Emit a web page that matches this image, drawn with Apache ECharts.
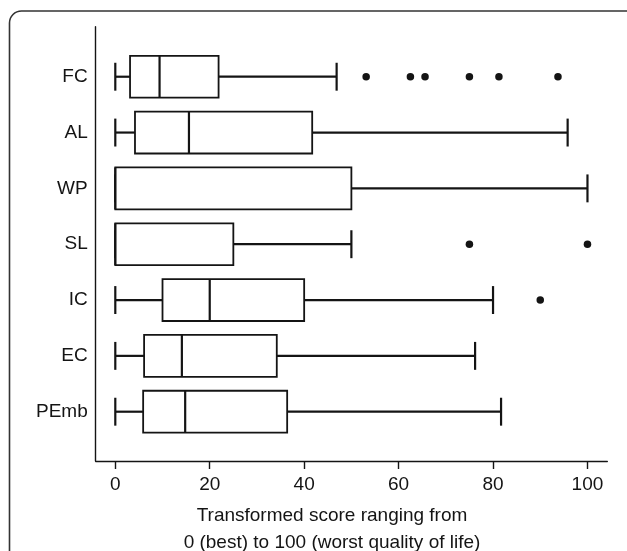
<!DOCTYPE html>
<html>
<head>
<meta charset="utf-8">
<script src="https://cdn.jsdelivr.net/npm/echarts@6/dist/echarts.min.js"></script>
<style>
  html, body { margin: 0; padding: 0; background: #fff; }
  #chart { width: 627px; height: 551px; }
</style>
</head>
<body>
<div id="chart"></div>
<script>
// Categories (top to bottom)
const categories = ['FC', 'AL', 'WP', 'SL', 'IC', 'EC', 'PEmb'];
// Five-number summaries: [min whisker, Q1, median, Q3, max whisker]
const lowerWhisker = [0, 0, 0, 0, 0, 0, 0];
const q1Values     = [3.125, 4.17, 0, 0, 10, 6.1, 5.9];
const medianValues = [9.375, 15.6, 0, 0, 20, 14.1, 14.8];
const q3Values     = [21.875, 41.7, 50, 25, 40, 34.2, 36.4];
const upperWhisker = [46.875, 95.8, 100, 50, 80, 76.2, 81.7];
// Outliers per category
const outliersFC = [53.125, 62.5, 65.6, 75, 81.25, 93.75];
const outliersSL = [75, 100];
const outliersIC = [90];
// Tick labels on the score axis
const xTicks = [0, 20, 40, 60, 80, 100];
const axisTitle = 'Transformed score ranging from\n0 (best) to 100 (worst quality of life)';

const boxData = categories.map((c, i) => [i, lowerWhisker[i], q1Values[i], medianValues[i], q3Values[i], upperWhisker[i]]);
const outlierData = []
  .concat(outliersFC.map(v => [v, 0]))
  .concat(outliersSL.map(v => [v, 3]))
  .concat(outliersIC.map(v => [v, 4]));

const chart = echarts.init(document.getElementById('chart'), null, { renderer: 'canvas' });
const FONT = 'Liberation Sans, Arial, Helvetica, sans-serif';
const INK = '#141414';

function renderBox(params, api) {
  const idx = api.value(0);
  const mn = api.value(1), q1 = api.value(2), md = api.value(3), q3 = api.value(4), mx = api.value(5);
  const band = api.size([0, 1])[1];
  const yC = api.coord([0, idx])[1];
  const halfBox = band * 0.375;
  const halfCap = band * 0.25;
  const xMin = api.coord([mn, idx])[0];
  const xQ1 = api.coord([q1, idx])[0];
  const xMd = api.coord([md, idx])[0];
  const xQ3 = api.coord([q3, idx])[0];
  const xMx = api.coord([mx, idx])[0];
  const lineStyle = { stroke: INK, lineWidth: 2.2, fill: null };
  const boxStyle = { stroke: INK, lineWidth: 1.8, fill: '#fff' };
  return {
    type: 'group',
    children: [
      { type: 'line', shape: { x1: xMin, y1: yC, x2: xQ1, y2: yC }, style: lineStyle },
      { type: 'line', shape: { x1: xQ3, y1: yC, x2: xMx, y2: yC }, style: lineStyle },
      { type: 'line', shape: { x1: xMin, y1: yC - halfCap, x2: xMin, y2: yC + halfCap }, style: lineStyle },
      { type: 'line', shape: { x1: xMx, y1: yC - halfCap, x2: xMx, y2: yC + halfCap }, style: lineStyle },
      { type: 'rect', shape: { x: xQ1, y: yC - halfBox, width: xQ3 - xQ1, height: 2 * halfBox }, style: boxStyle },
      { type: 'line', shape: { x1: xMd, y1: yC - halfBox, x2: xMd, y2: yC + halfBox }, style: lineStyle }
    ]
  };
}

const option = {
  backgroundColor: '#fff',
  animation: false,
  textStyle: { fontFamily: FONT },
  graphic: [
    {
      type: 'rect',
      silent: true,
      shape: { x: 9.5, y: 11, width: 630, height: 600, r: 12 },
      style: { fill: null, stroke: '#333', lineWidth: 1.6 }
    }
  ],
  title: {
    text: axisTitle,
    left: 332,
    top: 503,
    padding: 0,
    textAlign: 'center',
    textStyle: { fontFamily: FONT, fontSize: 19, fontWeight: 'normal', color: INK, lineHeight: 26.5 }
  },
  grid: { left: 95.7, right: 19.7, top: 26.7, bottom: 90, containLabel: false },
  xAxis: {
    type: 'value',
    min: -4.15,
    max: 104.2,
    splitLine: { show: false },
    axisLine: { show: true, onZero: false, lineStyle: { color: INK, width: 1.4 } },
    axisTick: { show: true, length: 8, customValues: xTicks, lineStyle: { color: INK, width: 1.4 } },
    axisLabel: { customValues: xTicks, fontFamily: FONT, fontSize: 19, color: INK, margin: 14 }
  },
  yAxis: {
    type: 'value',
    inverse: true,
    min: -0.896,
    max: 6.883,
    splitLine: { show: false },
    axisLine: { show: true, onZero: false, lineStyle: { color: INK, width: 1.4 } },
    axisTick: { show: false },
    axisLabel: {
      customValues: categories.map((c, i) => i),
      formatter: v => categories[Math.round(v)],
      fontFamily: FONT, fontSize: 19, color: INK, margin: 8
    }
  },
  series: [
    {
      type: 'custom',
      renderItem: renderBox,
      encode: { x: [1, 2, 3, 4, 5], y: 0 },
      data: boxData,
      clip: false
    },
    {
      type: 'scatter',
      data: outlierData,
      symbol: 'circle',
      symbolSize: 7.5,
      itemStyle: { color: INK, opacity: 1 },
      clip: false
    }
  ]
};
chart.setOption(option);
</script>
</body>
</html>
